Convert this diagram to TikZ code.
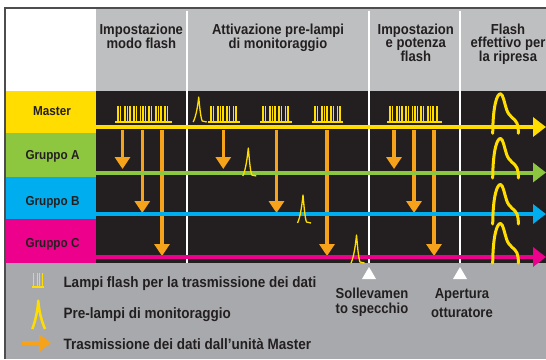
\documentclass[tikz,border=0pt]{standalone}
\usepackage{fontspec}
\setmainfont{Liberation Sans}[FakeStretch=0.9]
\usetikzlibrary{arrows.meta}
\definecolor{ink}{HTML}{231F20}
\definecolor{bgblack}{HTML}{231F20}
\definecolor{hdrgray}{HTML}{BEBFC1}
\definecolor{leggray}{HTML}{A8A9AC}
\definecolor{myyellow}{HTML}{FFDD00}
\definecolor{mygreen}{HTML}{8DC63F}
\definecolor{myblue}{HTML}{00AEEF}
\definecolor{mymagenta}{HTML}{EC008C}
\definecolor{myorange}{HTML}{F7A21B}
\definecolor{framegray}{HTML}{4D4D4F}
\newcommand\sigburst[3]{% start, width, spike offsets
  \draw[spike] (#1,122) -- ({#1+#2},122);
  \foreach \s in {#3} \draw[spike] ({#1+\s},122) -- ({#1+\s},105.5);
}
\newcommand\preflash[3]{% x of peak, bottom y, height
  \draw[pre] ({#1-5.5},#2) .. controls ({#1-2.5},{#2-6}) and ({#1-0.8},{#2-#3+8}) .. ({#1},{#2-#3})
    .. controls ({#1+0.8},{#2-#3+8}) and ({#1+1.8},{#2-5}) .. ({#1+3.5},{#2-1}) -- ({#1+8},#2);
}
\newcommand\bigflash[1]{% bottom y
  \draw[mainflash] (492.7,#1) .. controls (493,{#1-28}) and (497,{#1-40}) .. (500.7,{#1-39.5})
    .. controls (503,{#1-39}) and (504.5,{#1-30}) .. (506.5,{#1-24})
    .. controls (509,{#1-16}) and (515,{#1-15}) .. (517,{#1-10})
    .. controls (518.3,{#1-7}) and (518.3,{#1-4}) .. (518.3,#1);
}
\begin{document}
\begin{tikzpicture}[x=1pt,y=-1pt,
  hdr/.style={font=\fontsize{14.5}{13}\selectfont\bfseries, align=center, anchor=north, inner sep=0pt, text=ink},
  rowlab/.style={font=\fontsize{13}{14}\selectfont\bfseries, anchor=base, inner sep=0pt, text=ink},
  rowbox/.style={draw=none, minimum width=90.3pt, inner sep=0pt, anchor=north west},
  legtext/.style={font=\fontsize{15}{18}\selectfont\bfseries, anchor=base west, inner sep=0pt, text=ink},
  evlab/.style={font=\fontsize{14.5}{16}\selectfont\bfseries, anchor=base, inner sep=0pt, text=ink},
  sigline/.style={line width=4pt, -{Triangle[length=13pt,width=19pt]}},
  data/.style={myorange, line width=3.2pt, -{Triangle[length=12pt,width=15pt]}},
  sep/.style={white, line width=2.5pt},
  spike/.style={myyellow, line width=1.3pt},
  pre/.style={myyellow, line width=1.3pt, line join=round},
  mainflash/.style={myyellow, line width=3pt, line join=round, line cap=round}]
\useasboundingbox (0,0) rectangle (546,359);
\fill[white] (0,0) rectangle (546,359);
% backgrounds
\fill[hdrgray] (96,8) rectangle (546,91);
\fill[bgblack] (96,91) rectangle (546,263);
\fill[leggray] (5,263) rectangle (546,359);
% row boxes
\node[rowbox, fill=myyellow, minimum height=42pt] (boxM) at (5.7,91) {};
\node[rowbox, fill=mygreen, minimum height=44pt] (boxA) at (5.7,133) {};
\node[rowbox, fill=myblue, minimum height=42pt] (boxB) at (5.7,177) {};
\node[rowbox, fill=mymagenta, minimum height=44pt] (boxC) at (5.7,219) {};
\node[rowlab] (labM) at (52,115.7) {Master};
\node[rowlab] (labA) at (52.5,159) {Gruppo A};
\node[rowlab] (labB) at (52.5,205) {Gruppo B};
\node[rowlab] (labC) at (52.5,247.7) {Gruppo C};
% frame
\draw[framegray, line width=1.5pt] (5,359) -- (5,8) -- (546,8);
% separators
\foreach \x in {187,369,460} \draw[sep] (\x,10.5) -- (\x,263);
% header texts
\node[hdr] (h1) at (141.3,23.5) {Impostazione\\modo flash};
\node[hdr] (h2) at (278,23.5) {Attivazione pre-lampi\\di monitoraggio};
\node[hdr] (h3) at (415.8,23.5) {Impostazion\\e potenza\\flash};
\node[hdr] (h4) at (508,23.5) {Flash\\effettivo per\\la ripresa};
% line coordinates
\coordinate (mS) at (96,127);   \coordinate (mE) at (546,127);
\coordinate (aS) at (96,172.5); \coordinate (aE) at (546,172.5);
\coordinate (bS) at (96,214);   \coordinate (bE) at (546,214);
\coordinate (cS) at (96,257);   \coordinate (cE) at (546,257);
\coordinate (endA) at (0,169);
\coordinate (endB) at (0,213);
\coordinate (endC) at (0,256);
% data transmission arrows
\foreach \x/\t in {122.5/A,142.3/B,162/C,223.3/A,276.5/B,327/C,394/A,414/B,434/C}
  \draw[data] (\x,130) -- (\x,0 |- end\t);
% signal lines
\draw[sigline, myyellow] (mS) -- (mE);
\draw[sigline, mygreen] (aS) -- (aE);
\draw[sigline, myblue] (bS) -- (bE);
\draw[sigline, mymagenta] (cS) -- (cE);
% data bursts on master
\sigburst{115}{57}{3,5.5,10,12.5,15,19,21.5,25.5,28,30.5,34,36.5,41,43.5,46,50,52.5}
\sigburst{208}{32}{3,5.5,10,12.5,15,19,21.5,25.5,28}
\sigburst{260}{32}{3,5.5,10,12.5,15,19,21.5,25.5,28}
\sigburst{312}{31}{3,5.5,10,12.5,15,19,21.5,25.5,28}
\sigburst{387}{55}{3,5.5,10,12.5,15,19,21.5,25.5,28,30.5,34,36.5,41,43.5,46,50}
% pre-flashes
\preflash{198.7}{122}{25}
\preflash{248.3}{176}{28}
\preflash{303}{223}{28}
\preflash{356.5}{263}{28}
% main flashes
\bigflash{133.3}
\bigflash{178}
\bigflash{224}
\bigflash{263}
% event markers
\fill[white] (369,267) -- (376,279) -- (362,279) -- cycle;
\fill[white] (460,267) -- (467,279) -- (453,279) -- cycle;
\node[evlab] (ev1a) at (372,298.3) {Sollevamen};
\node[evlab] (ev1b) at (372,313.5) {to specchio};
\node[evlab] (ev2a) at (462,298.3) {Apertura};
\node[evlab] (ev2b) at (462,317.3) {otturatore};
% legend
\draw[myyellow, line width=1.5pt] (32,287) -- (44,287);
\foreach \s in {33.5,37.5,39.5,42.5} \draw[myyellow, line width=1.5pt] (\s,287) -- (\s,273);
\draw[myyellow, line width=2.5pt, line join=round] (32.3,329) .. controls (35,322) and (37.5,312) .. (38.3,300.7) .. controls (39,312) and (42,322) .. (45,329);
\coordinate (legS) at (22,343);
\coordinate (legE) at (51,343);
\draw[myorange, line width=3.5pt, -{Triangle[length=12pt,width=17pt]}] (legS) -- (legE);
\node[legtext] (l1) at (63.3,287.3) {Lampi flash per la trasmissione dei dati};
\node[legtext] (l2) at (63.3,318.3) {Pre-lampi di monitoraggio};
\node[legtext] (l3) at (63.3,349) {Trasmissione dei dati dall’unità Master};
\end{tikzpicture}
\end{document}
